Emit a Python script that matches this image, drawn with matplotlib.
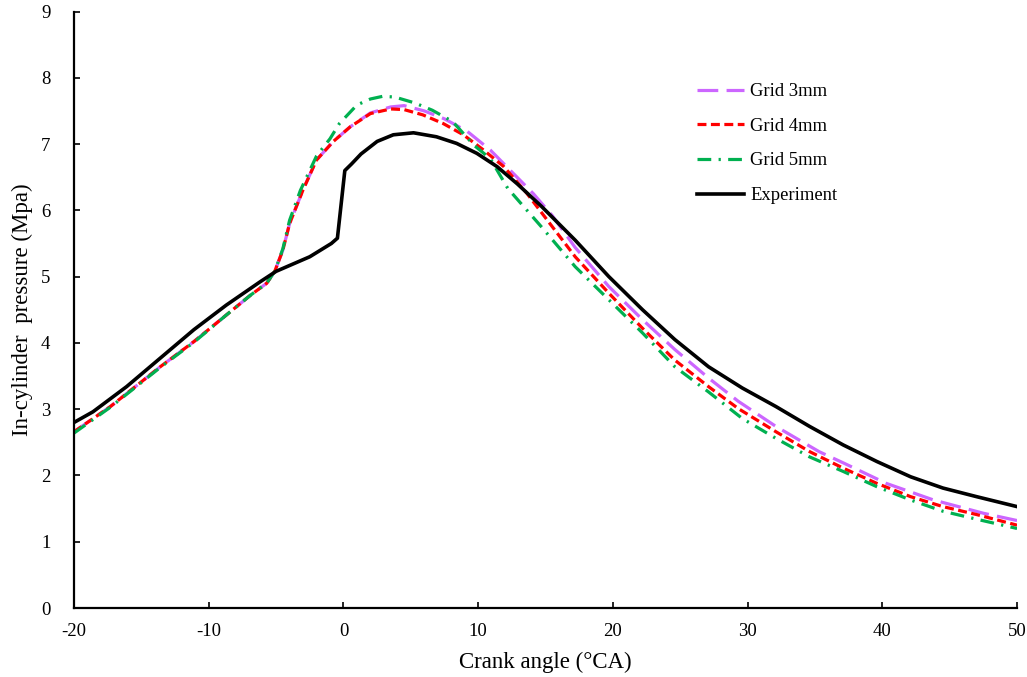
import numpy as np
import matplotlib
matplotlib.use('Agg')
import matplotlib.pyplot as plt

plt.rcParams['font.family'] = ['Liberation Serif', 'DejaVu Serif']
plt.rcParams['axes.unicode_minus'] = False

# experiment
exp_x = [-20, -18.6, -16.1, -13.6, -11.1, -8.7, -6.2, -5.0, -2.5, -0.9, -0.45, 0.1,
         0.6, 1.3, 2.5, 3.7, 5.2, 6.9, 8.4, 9.9, 11.4, 12.9, 14.7, 17.2, 19.7, 22.2,
         24.6, 27.1, 29.6, 32.1, 34.6, 37.1, 39.6, 42.1, 44.5, 47.0, 50]
exp_y = [2.8, 2.96, 3.34, 3.77, 4.2, 4.57, 4.92, 5.08, 5.3, 5.5, 5.58, 6.6,
         6.7, 6.85, 7.04, 7.14, 7.17, 7.11, 7.01, 6.86, 6.66, 6.4, 6.06, 5.55, 5.0, 4.5,
         4.05, 3.64, 3.32, 3.04, 2.74, 2.46, 2.21, 1.98, 1.81, 1.68, 1.53]

# grid 4mm
g4_x = [-20, -17.3, -13.6, -11.1, -8.7, -6.9, -5.7, -5.1, -4.5, -4.0, -3.0, -2.0,
        -0.75, 0.5, 2.0, 3.5, 4.5, 5.9, 7.4, 8.9, 10.4, 11.9, 13.6, 15.1, 17.2, 19.7,
        22.2, 24.6, 27.1, 29.3, 32.1, 34.6, 37.1, 39.6, 42.1, 44.5, 47.0, 50]
g4_y = [2.66, 3.04, 3.64, 4.02, 4.42, 4.72, 4.9, 5.08, 5.4, 5.8, 6.31, 6.76,
        7.04, 7.26, 7.46, 7.53, 7.52, 7.44, 7.31, 7.14, 6.91, 6.66, 6.26, 5.86, 5.3, 4.75,
        4.22, 3.74, 3.34, 3.01, 2.66, 2.36, 2.11, 1.88, 1.68, 1.53, 1.41, 1.25]

# grid 5mm
g5_x = [-20, -17.3, -13.6, -11.1, -8.7, -6.9, -5.7, -5.1, -4.5, -4.0, -3.2, -2.0,
        -1.0, -0.3, 1.0, 2.0, 2.9, 3.8, 5.3, 6.6, 8.1, 9.7, 10.9, 12.2, 14.7, 17.2,
        19.7, 22.2, 24.6, 27.1, 29.6, 32.1, 34.6, 37.1, 39.6, 42.1, 44.5, 47.0, 50]
g5_y = [2.64, 3.03, 3.63, 4.01, 4.42, 4.72, 4.9, 5.08, 5.42, 5.85, 6.3, 6.82,
        7.08, 7.31, 7.59, 7.68, 7.72, 7.71, 7.62, 7.51, 7.34, 6.98, 6.78, 6.33, 5.75, 5.15,
        4.65, 4.15, 3.64, 3.26, 2.86, 2.56, 2.28, 2.06, 1.83, 1.63, 1.46, 1.34, 1.2]

# grid 3mm
g3_x = [-20, -17.3, -13.6, -11.1, -8.7, -6.9, -5.7, -5.1, -4.5, -4.0, -3.0, -2.0,
        -0.75, 0.5, 2.0, 3.5, 4.5, 6.0, 7.5, 9.2, 10.9, 12.35, 14.1, 15.5, 17.2, 19.7,
        22.2, 24.6, 27.1, 29.3, 32.1, 35.3, 37.1, 40.3, 43.8, 47.5, 50]
g3_y = [2.66, 3.04, 3.64, 4.02, 4.42, 4.72, 4.9, 5.08, 5.4, 5.8, 6.31, 6.76,
        7.04, 7.26, 7.47, 7.56, 7.58, 7.5, 7.38, 7.19, 6.91, 6.61, 6.25, 5.92, 5.44, 4.85,
        4.35, 3.9, 3.47, 3.12, 2.74, 2.36, 2.19, 1.88, 1.63, 1.43, 1.32]

xticks = [-20, -10, 0, 10, 20, 30, 40, 50]
yticks = [0, 1, 2, 3, 4, 5, 6, 7, 8, 9]

fig = plt.figure(figsize=(10.27, 6.77), dpi=100)
ax = fig.add_axes([0.0721, 0.1019, 0.9182, 0.8811])

lw = 2.3
ax.plot(g3_x, g3_y, color='#CC66FF', lw=lw, ls=(0, (6.5, 2.6)), label='Grid 3mm')
ax.plot(g4_x, g4_y, color='#FF0000', lw=lw, ls=(0, (2.8, 1.4)), label='Grid 4mm')
ax.plot(g5_x, g5_y, color='#00B050', lw=lw, ls=(0, (4.3, 2.3, 0.7, 2.3)), label='Grid 5mm')
ax.plot(exp_x, exp_y, color='black', lw=2.6, ls='-', label='Experiment')

ax.set_xlim(-20, 50)
ax.set_ylim(0, 9)
ax.set_xticks(xticks)
ax.set_yticks(yticks)
ax.tick_params(direction='in', length=4.5, width=1.2, labelsize=13.5)
ax.tick_params(axis='x', pad=11)
ax.tick_params(axis='y', pad=17)
for s in ['top', 'right']:
    ax.spines[s].set_visible(False)
for s in ['left', 'bottom']:
    ax.spines[s].set_linewidth(1.6)

ax.set_xlabel('Crank angle (\u00b0CA)', fontsize=16.5, va='center')
ax.set_ylabel('In-cylinder  pressure (Mpa)', fontsize=16.5, va='center')
ax.xaxis.set_label_coords(0.5, -0.092)
ax.yaxis.set_label_coords(-0.055, 0.5)

ax.legend(loc='upper left', bbox_to_anchor=(697 / 1027, 1 - 83 / 677),
          bbox_transform=fig.transFigure, frameon=False, fontsize=13.4,
          handlelength=2.5, handletextpad=0.35, labelspacing=0.95,
          borderpad=0, borderaxespad=0)

fig.savefig('out.png', dpi=100)
